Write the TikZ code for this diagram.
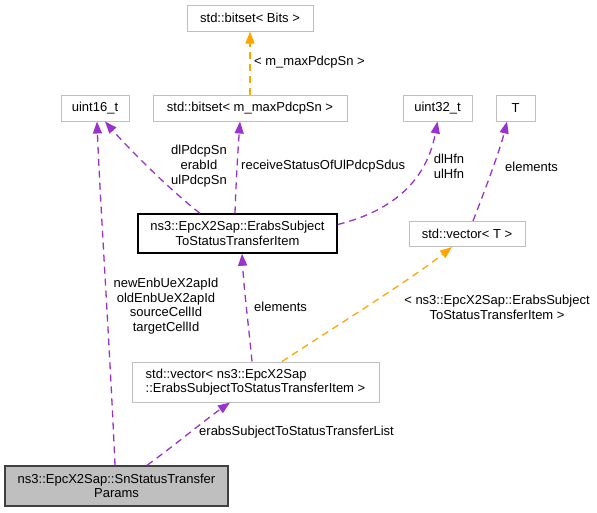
\documentclass[tikz,border=0pt]{standalone}
\usepackage{fontspec}
\setmainfont{Liberation Sans}
\usepackage{xcolor}
\usepackage{tikz}
\usetikzlibrary{arrows.meta}

\definecolor{relpurple}{HTML}{9A32CD}
\definecolor{tmplorange}{HTML}{FFA500}
\definecolor{boxgray}{HTML}{BFBFBF}

\tikzset{
	cls/.style = {draw=boxgray, line width=1pt, inner sep=0pt, minimum height=26pt, align=center},
	clsfocus/.style = {cls, draw=black, line width=1.4pt},
	usage/.style = {relpurple, line width=1.3pt, dash pattern=on 7pt off 5pt, -{Triangle[length=12pt, width=9pt]}},
	tmpl/.style = {tmplorange, line width=1.3pt, dash pattern=on 7pt off 5pt, -{Triangle[length=12pt, width=9pt]}},
	lbl/.style = {inner sep=0pt, align=center}
}

\begin{document}
\begin{tikzpicture}[x=1pt, y=-1pt, font=\fontsize{13}{14.7}\selectfont]
	\useasboundingbox (0,0) rectangle (597,512);

	% classes
	\node [cls, minimum width=126pt] (bits) at (250,18) {std::bitset< Bits >};
	\node [cls, minimum width=194pt] (bitsm) at (250,108) {std::bitset< m\_maxPdcpSn >};
	\node [cls, minimum width=68pt] (u16) at (95,108) {uint16\_t};
	\node [cls, minimum width=69pt] (u32) at (437.5,108) {uint32\_t};
	\node [cls, minimum width=39pt] (tT) at (515.5,108) {T};
	\node [clsfocus, minimum width=199pt, minimum height=39pt] (item) at (237.5,233.5)
		{ns3::EpcX2Sap::ErabsSubject\\ToStatusTransferItem};
	\node [cls, minimum width=116pt, minimum height=25pt] (vecT) at (467,234) {std::vector< T >};
	\node [cls, minimum width=247pt, minimum height=40pt, align=left] (vecItem) at (255.5,382)
		{std::vector< ns3::EpcX2Sap\\::ErabsSubjectToStatusTransferItem >};
	\node [cls, draw=black!75, fill=boxgray, line width=1.4pt, minimum width=223pt, minimum height=40pt] (params) at (116.5,486)
		{ns3::EpcX2Sap::SnStatusTransfer\\Params};

	% relations
	\draw [tmpl] (bitsm.north) -- (bits.south);
	\node [lbl, anchor=west] (lmax) at (254,62) {< m\_maxPdcpSn >};

	\draw [usage] ([xshift=-37.5pt]item.north) .. controls (170,190) and (130,150) .. ([xshift=10pt]u16.south);
	\node [lbl] (lsn) at (199,166) {dlPdcpSn\\erabId\\ulPdcpSn};

	\draw [usage] ([xshift=-2.5pt]item.north) .. controls (236,180) and (238,150) .. ([xshift=-10pt]bitsm.south);
	\node [lbl, anchor=west] (lrecv) at (241,166) {receiveStatusOfUlPdcpSdus};

	\draw [usage] ([yshift=9pt]item.east) .. controls (380,214) and (425,190) .. (u32.south);
	\node [lbl] (lhfn) at (449,166) {dlHfn\\ulHfn};

	\draw [usage] ([xshift=6pt]vecT.north) .. controls (485,190) and (500,150) .. ([xshift=-8.5pt]tT.south);
	\node [lbl, anchor=west] (lelemT) at (505,167) {elements};

	\draw [usage] ([xshift=-3.5pt]vecItem.north) .. controls (248,320) and (244,290) .. ([xshift=4.5pt]item.south);
	\node [lbl, anchor=west] (lelemI) at (254,307) {elements};

	\draw [tmpl] ([xshift=26.5pt]vecItem.north) .. controls (330,330) and (410,280) .. ([xshift=-15pt]vecT.south);
	\node [lbl] (lvec) at (497,307) {< ns3::EpcX2Sap::ErabsSubject\\ToStatusTransferItem >};

	\draw [usage] ([xshift=-1.5pt]params.north) .. controls (110,350) and (100,200) .. ([xshift=2pt]u16.south);
	\node [lbl] (lids) at (166,306) {newEnbUeX2apId\\oldEnbUeX2apId\\sourceCellId\\targetCellId};

	\draw [usage] ([xshift=30.5pt]params.north) .. controls (175,445) and (205,420) .. ([xshift=-25.5pt]vecItem.south);
	\node [lbl, anchor=west] (llist) at (199,432) {erabsSubjectToStatusTransferList};
\end{tikzpicture}
\end{document}
